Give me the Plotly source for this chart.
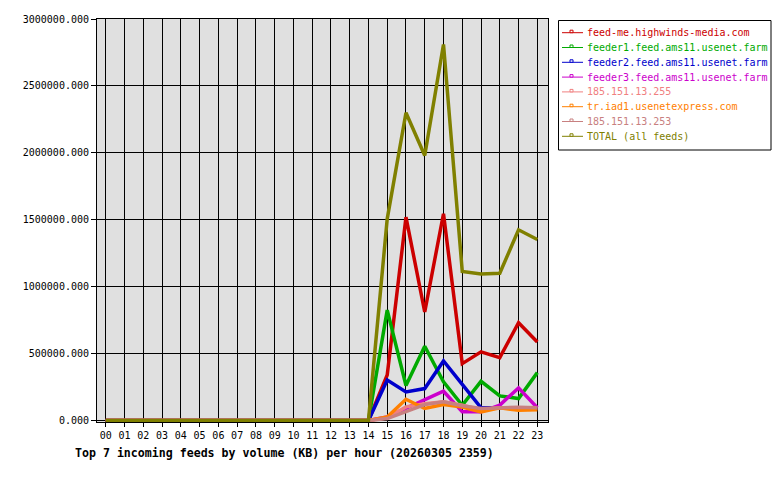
import plotly.graph_objects as go

hours = [f"{h:02d}" for h in range(24)]
zeros = [0] * 14

feed_me = zeros + [0, 340000, 1520000, 811000, 1545000, 425000, 513000, 470000, 731000, 587000]
feeder1 = zeros + [0, 825000, 262000, 555000, 289000, 114000, 293000, 184000, 164000, 358000]
feeder2 = zeros + [0, 302000, 214000, 239000, 445000, 270000, 95000, 95000, 92000, 92000]
feeder3 = zeros + [0, 27000, 90000, 151000, 219000, 65000, 65000, 115000, 244000, 95000]
ip255 = zeros + [0, 20000, 102000, 125000, 140000, 115000, 80000, 95000, 95000, 90000]
iad1 = zeros + [0, 27000, 159000, 90000, 119000, 100000, 65000, 95000, 77000, 80000]
ip253 = zeros + [0, 15000, 65000, 119000, 140000, 110000, 90000, 95000, 100000, 95000]
total = zeros + [0, 1507000, 2300000, 1980000, 2810000, 1114000, 1095000, 1100000, 1425000, 1353000]

names = ["feed-me.highwinds-media.com", "feeder1.feed.ams11.usenet.farm",
         "feeder2.feed.ams11.usenet.farm", "feeder3.feed.ams11.usenet.farm",
         "185.151.13.255", "tr.iad1.usenetexpress.com", "185.151.13.253",
         "TOTAL (all feeds)"]
series = [feed_me, feeder1, feeder2, feeder3, ip255, iad1, ip253, total]
colors = ["#CC0000", "#00AA00", "#0000CC", "#CC00CC", "#F08080", "#FF8000", "#C88080", "#808000"]
y_ticks = [0, 500000, 1000000, 1500000, 2000000, 2500000, 3000000]

W, H = 780, 480
ML, MR, MT, MB = 97, 232, 19, 58
PW, PH = W - ML - MR, H - MT - MB


def px(xp):
    return (xp - ML) / PW


def py(yp):
    return (H - MB - yp) / PH


x = list(range(24))
fig = go.Figure()
for nm, ys, c in zip(names, series, colors):
    fig.add_trace(go.Scatter(x=x, y=ys, mode="lines", name=nm, line=dict(color=c, width=3.5),
                             showlegend=False, hoverinfo="skip"))

# hand-drawn legend (compact spacing, coloured text)
shapes = [dict(type="rect", xref="paper", yref="paper", x0=px(558.5), x1=px(771), y0=py(20.5),
               y1=py(150), line=dict(color="black", width=1), fillcolor="white", layer="above")]
annotations = []
for i, (nm, c) in enumerate(zip(names, colors)):
    ry = 32.7 + 14.8 * i
    shapes.append(dict(type="line", xref="paper", yref="paper", x0=px(562), x1=px(583),
                       y0=py(ry), y1=py(ry), line=dict(color=c, width=1), layer="above"))
    shapes.append(dict(type="rect", xref="paper", yref="paper", x0=px(570), x1=px(573),
                       y0=py(ry), y1=py(ry - 2.5), line=dict(color=c, width=1),
                       fillcolor="white", layer="above"))
    annotations.append(dict(text=nm, xref="paper", yref="paper", x=px(584.5), y=py(ry),
                            xanchor="left", yanchor="middle", showarrow=False,
                            font=dict(family="DejaVu Sans Mono", size=10, color=c)))

annotations.append(dict(text="<b>Top 7 incoming feeds by volume (KB) per hour (20260305 2359)</b>",
                        xref="paper", yref="paper", x=px(73), y=py(444), xanchor="left",
                        yanchor="top", showarrow=False,
                        font=dict(family="DejaVu Sans Mono", size=11.6, color="black")))

fig.update_layout(
    width=W, height=H,
    margin=dict(l=ML, r=MR, t=MT, b=MB),
    paper_bgcolor="white", plot_bgcolor="#E0E0E0",
    font=dict(family="DejaVu Sans Mono", size=10, color="black"),
    showlegend=False,
    xaxis=dict(range=[-0.47, 23.57], tickmode="array", tickvals=x, ticktext=hours,
               showgrid=True, gridcolor="black", gridwidth=1, zeroline=False,
               showline=True, linecolor="black", linewidth=1, mirror=True,
               ticks="outside", ticklen=4, tickcolor="black"),
    yaxis=dict(range=[-11000, 3000000], tickmode="array", tickvals=y_ticks,
               tickformat=".3f", showgrid=True, gridcolor="black", gridwidth=1, zeroline=False,
               showline=True, linecolor="black", linewidth=1, mirror=True,
               ticks="outside", ticklen=5, tickcolor="black"),
    shapes=shapes,
    annotations=annotations,
)
fig.write_html("out.html")
